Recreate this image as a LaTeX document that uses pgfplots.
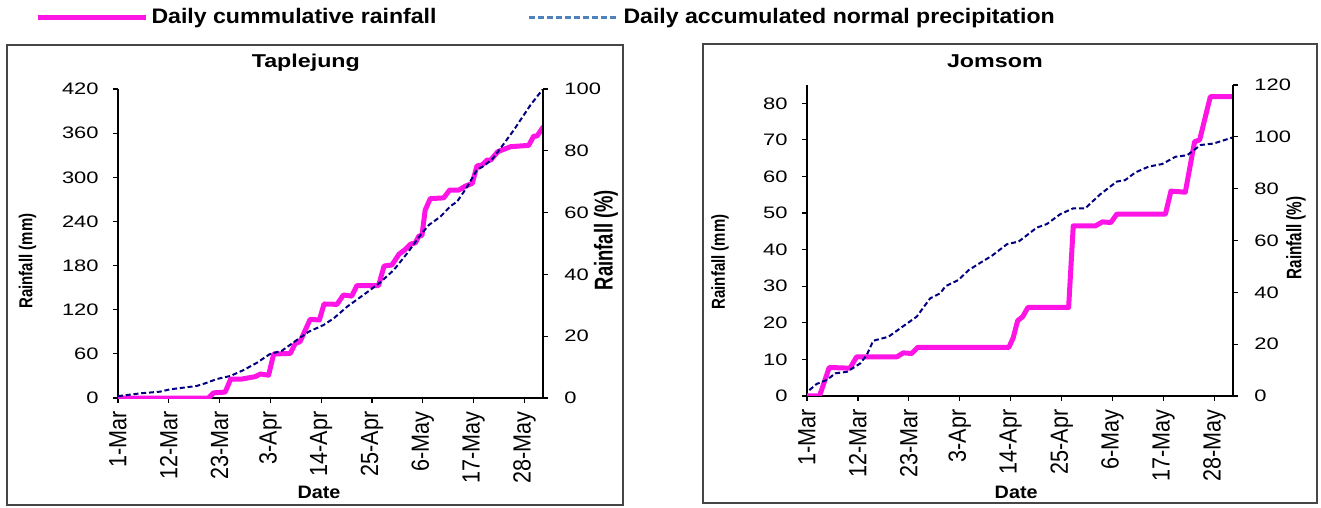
\documentclass[border=0pt]{standalone}
\usepackage{fontspec}
\setmainfont{Liberation Sans}
\usepackage{graphicx}
\usepackage{pgfplots}
\pgfplotsset{compat=1.18}

\definecolor{rainpink}{RGB}{255,20,230}
\definecolor{normnavy}{RGB}{0,0,128}
\definecolor{legblue}{RGB}{79,129,189}
\definecolor{framegray}{RGB}{70,70,70}

\pgfplotsset{
  base/.style={scale only axis, anchor=south west, xmin=0, xmax=92,
    tick align=outside, major tick length=2.5pt,
    axis line style={black, line width=0.6pt}, tick style={black, line width=0.6pt},
    /pgf/number format/assume math mode=true,
    yticklabel style={font=\fontsize{8.3}{9}\selectfont, inner sep=0pt},
    yticklabel={\scalebox{1.32}[1]{\pgfmathprintnumber{\tick}}},
  },
  main/.style={base, axis x line*=bottom, axis y line*=left,
    xtick={0,11,...,88},
    xticklabels={1-Mar,12-Mar,23-Mar,3-Apr,14-Apr,25-Apr,6-May,17-May,28-May},
    xticklabel style={font=\fontsize{10.8}{12}\selectfont, yshift=-4pt, xscale=1.15,
      rotate=90, anchor=east, inner sep=0pt},
    yticklabel style={xshift=-7pt},
  },
  sec/.style={base, axis y line*=right, axis x line=none, yticklabel style={xshift=8pt}},
  rain/.style={rainpink, line width=2.5pt, line join=round, line cap=round, forget plot},
  norm/.style={normnavy, line width=1pt, dash pattern=on 2.5pt off 1.4pt, forget plot},
}

\begin{document}
\begin{tikzpicture}
\useasboundingbox (0pt,0pt) rectangle (660.5pt,254pt);
\draw[framegray, line width=0.8pt] (3.5pt,1.5pt) rectangle (311.5pt,231.5pt);
\draw[framegray, line width=0.8pt] (351.5pt,2.5pt) rectangle (658.5pt,232pt);

% Taplejung
\begin{axis}[main, at={(59pt,55pt)}, width=212.5pt, height=154.5pt,
  ymin=0, ymax=420, ytick={0,60,...,420},
  title={\scalebox{1.25}[1]{Taplejung}},
  title style={at={(axis description cs:0.442,1.045)}, anchor=center, inner sep=0pt,
    font=\bfseries\fontsize{9.3}{10}\selectfont},
  xlabel={\scalebox{1.1}[1]{Date}},
  every axis x label/.style={at={(axis description cs:0.473,-0.307)}, anchor=center,
    font=\bfseries\fontsize{9}{10}\selectfont},
  ylabel={\scalebox{1}[1.25]{Rainfall (mm)}},
  every axis y label/.style={at={(axis description cs:-0.213,0.443)}, rotate=90, anchor=center,
    font=\bfseries\fontsize{7.5}{8}\selectfont},
  legend columns=2,
  legend style={draw=none, fill=none, at={(axis description cs:-0.195,1.233)}, anchor=west,
    font=\bfseries\fontsize{10.5}{11}\selectfont, inner sep=0pt,
    nodes={inner sep=1.5pt},
    /tikz/every even column/.append style={column sep=44pt}},
]
\addplot[rain] coordinates {(0,0) (19.6,0) (20.7,7) (23.2,8) (24.4,25.8) (26.8,25.8)
  (29.7,29) (30.8,32.6) (32.6,31) (33.7,59.8) (37.3,60.6) (38.4,74.3) (39.4,76.5)
  (41.6,107) (43.6,106) (44.6,127.8) (47.4,127.3) (48.8,140) (50.6,138.5) (51.7,152.7)
  (56.4,152.7) (57.6,179.4) (59.3,180.8) (60.8,195.3) (62,201) (63.3,209) (64.4,211)
  (65.1,220) (65.8,221) (66.5,255.5) (67.6,271) (70.5,272) (71.8,282.7) (73.8,282.7)
  (75.2,288) (76.7,291.8) (77.7,315.4) (78.8,316.7) (79.9,323.5) (80.7,323.5)
  (82.2,334.8) (85,341.6) (88.9,343.4) (90,356) (90.7,356) (92,368)};
\addplot[norm] coordinates {(0,2.5) (4.8,6.3) (9.1,8.6) (11.3,11.8) (17,16.3) (18.9,20)
  (21.4,25.8) (24.3,29.9) (27.2,38) (30.1,48) (32.9,59.8) (35.5,64.3) (38.7,78.8)
  (41.3,90.1) (44.5,99.2) (46.7,108.3) (49.6,124.1) (53.9,143.6) (56.8,157.3)
  (59.7,174) (62.6,196.7) (65.5,221.6) (67.3,235.2) (69.8,246.5) (72,261) (73.4,266.8)
  (75.6,287.2) (77.7,310) (79.2,315.4) (81,324.4) (82.8,339.4) (85.7,364.3)
  (89.3,398.3) (92,420)};
\addlegendimage{legend image code/.code={\draw[rainpink, line width=2.5pt] (0pt,0pt) -- (54pt,0pt);}}
\addlegendentry{\scalebox{1.1}[1]{Daily cummulative rainfall}}
\addlegendimage{legend image code/.code={\draw[legblue, line width=1.5pt, dash pattern=on 3pt off 1.5pt] (0pt,0pt) -- (45pt,0pt);}}
\addlegendentry{\scalebox{1.1}[1]{Daily accumulated normal precipitation}}
\end{axis}
\begin{axis}[sec, at={(59pt,55pt)}, width=212.5pt, height=154.5pt,
  ymin=0, ymax=100, ytick={0,20,...,100},
  ylabel={\scalebox{1}[1.4]{Rainfall (\%)}},
  every axis y label/.style={at={(axis description cs:1.148,0.511)}, rotate=90, anchor=center,
    font=\bfseries\fontsize{9.2}{10}\selectfont},
]
\addplot[draw=none] coordinates {(0,0)};
\end{axis}

% Jomsom
\begin{axis}[main, at={(403.5pt,56pt)}, width=213pt, height=155.5pt,
  ymin=0, ymax=85, ytick={0,10,...,80},
  title={\scalebox{1.25}[1]{Jomsom}},
  title style={at={(axis description cs:0.441,1.039)}, anchor=center, inner sep=0pt,
    font=\bfseries\fontsize{9.3}{10}\selectfont},
  xlabel={\scalebox{1.1}[1]{Date}},
  every axis x label/.style={at={(axis description cs:0.491,-0.309)}, anchor=center,
    font=\bfseries\fontsize{9}{10}\selectfont},
  ylabel={\scalebox{1}[1.25]{Rainfall (mm)}},
  every axis y label/.style={at={(axis description cs:-0.204,0.431)}, rotate=90, anchor=center,
    font=\bfseries\fontsize{7.5}{8}\selectfont},
]
\addplot[rain] coordinates {(0,0) (2.7,0) (4.8,7.8) (9.3,7.6) (10.7,10.7) (19.4,10.7)
  (20.8,11.8) (22.6,11.6) (23.9,13.3) (43.6,13.3) (44.5,15.8) (45.5,20.6) (46.6,21.7)
  (47.7,24.2) (56.5,24.2) (57.5,46.5) (62.3,46.5) (63.8,47.6) (65.6,47.4) (66.9,49.7)
  (77.4,49.7) (78.6,56) (81.7,55.7) (83.7,69.5) (84.8,70) (87.1,81.8) (92,81.8)};
\addplot[norm] coordinates {(0.5,1.6) (2.1,3.3) (4.3,4.4) (6.1,6.2) (8.6,6.6) (11.5,8.9)
  (12.9,11.2) (14.3,15.1) (17.6,16.2) (20.8,19.1) (23.7,21.7) (26.6,26.7) (28.8,28.1)
  (29.9,30) (32.7,31.7) (34.9,34.4) (37.8,36.7) (39.9,38.3) (43.2,41.5) (45.7,42.2)
  (49.6,46) (51.8,47) (54.7,49.7) (57.5,51.3) (60.1,51.3) (63.3,55.1) (66.9,58.6)
  (68.7,59) (70.9,61.1) (73.8,62.7) (76.7,63.4) (79.6,65.4) (82.1,65.8) (85,68.6)
  (87.8,69) (92,70.7)};
\end{axis}
\begin{axis}[sec, at={(403.5pt,56pt)}, width=213pt, height=155.5pt,
  ymin=0, ymax=120, ytick={0,20,...,120},
  ylabel={\scalebox{1}[1.38]{Rainfall (\%)}},
  every axis y label/.style={at={(axis description cs:1.148,0.508)}, rotate=90, anchor=center,
    font=\bfseries\fontsize{7.6}{8}\selectfont},
]
\addplot[draw=none] coordinates {(0,0)};
\end{axis}
\end{tikzpicture}
\end{document}
